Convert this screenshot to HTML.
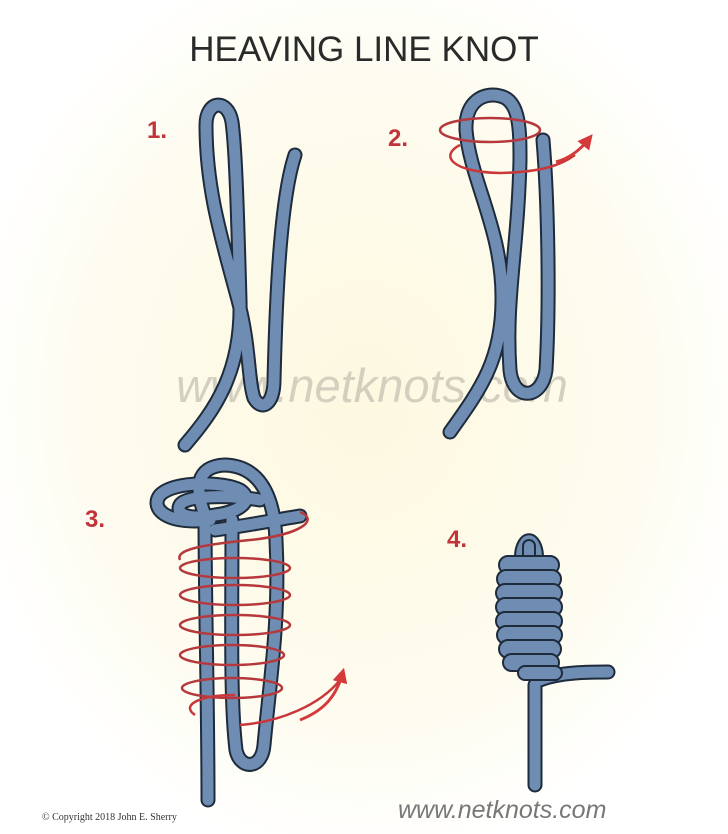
<!DOCTYPE html>
<html><head><meta charset="utf-8"><style>
html,body{margin:0;padding:0;}
body{width:728px;height:834px;overflow:hidden;background:#fff;font-family:"Liberation Sans",sans-serif;position:relative;}
svg{position:absolute;left:0;top:0;}
</style></head><body>
<svg width="728" height="834" viewBox="0 0 728 834" xmlns="http://www.w3.org/2000/svg">
<defs>
<radialGradient id="bg" cx="50%" cy="48%" r="55%">
<stop offset="0" stop-color="#fdf8df"/><stop offset="0.7" stop-color="#fefcf0"/><stop offset="1" stop-color="#ffffff"/>
</radialGradient>
<marker id="ah" viewBox="0 0 10 10" refX="5" refY="5" markerWidth="5" markerHeight="5" orient="auto"><path d="M0,0 L10,5 L0,10 z" fill="#d43a3a"/></marker>
</defs>
<rect width="728" height="834" fill="url(#bg)"/>
<text x="364" y="61" text-anchor="middle" font-size="35" fill="#2a2a2a" font-family="Liberation Sans,sans-serif">HEAVING LINE KNOT</text>
<g font-weight="bold" font-size="24" fill="#c0343a">
<text x="147" y="138">1.</text><text x="388" y="146">2.</text><text x="85" y="527">3.</text><text x="447" y="547">4.</text>
</g>
<text x="372" y="402" text-anchor="middle" font-size="47" font-style="italic" fill="#c9c6b8" opacity="0.8">www.netknots.com</text>

<g fill="none" stroke-linecap="round" stroke-linejoin="round">
<path id="p1" d="M185,445 C215,410 242,372 240,300 C238,230 236,150 232,122 C228,98 206,100 206,125 C206,190 222,240 238,300 C250,345 248,380 254,398 C262,412 274,404 274,380 C276,300 280,200 295,155"/>
<path id="p2" d="M450,432 C480,390 502,360 502,300 C503,230 470,180 466,130 C465,100 485,92 500,96 C520,100 520,130 520,160 C518,250 505,300 510,370 C513,402 542,400 546,370 C550,300 548,200 543,140"/>
<path id="p3a" d="M208,800 C208,700 205,600 205,515"/>
<path id="p3b" d="M232,520 C232,620 230,700 236,750 C240,770 262,770 264,745 C270,680 280,620 276,540 C274,490 256,466 225,465 C195,466 195,490 205,515"/>
<path id="p3c" d="M210,520 C165,525 150,508 160,495 C175,480 225,482 240,490 C255,500 240,512 215,515 C190,520 175,515 180,505 C185,495 230,495 260,500 M215,530 C250,525 275,520 300,516"/>
<path id="p4" d="M535,785 L535,685 M540,680 C560,672 590,672 608,672"/>
</g>
<g fill="none" stroke="#1e2b3b" stroke-width="15" stroke-linecap="round" stroke-linejoin="round">
<use href="#p1"/><use href="#p2"/><use href="#p3a"/><use href="#p3c"/><use href="#p3b"/><use href="#p4"/>
</g>
<g fill="none" stroke="#6f8db3" stroke-width="11" stroke-linecap="round" stroke-linejoin="round">
<use href="#p1"/><use href="#p2"/><use href="#p3a"/><use href="#p3c"/><use href="#p3b"/><use href="#p4"/>
</g>
<g stroke="#1e2b3b" stroke-width="2" fill="#6f8db3">
<path d="M515,562 C513,525 545,525 543,562 Z" />
<rect x="523" y="540" width="12" height="28" rx="6"/>
<rect x="499" y="556" width="60" height="18" rx="9"/>
<rect x="497" y="570" width="64" height="18" rx="9"/>
<rect x="496" y="584" width="66" height="18" rx="9"/>
<rect x="496" y="598" width="66" height="18" rx="9"/>
<rect x="496" y="612" width="66" height="18" rx="9"/>
<rect x="497" y="626" width="65" height="18" rx="9"/>
<rect x="499" y="640" width="62" height="18" rx="9"/>
<rect x="503" y="654" width="56" height="17" rx="8.5"/>
<rect x="518" y="666" width="44" height="14" rx="7"/>
</g>
<g fill="none" stroke="#b5393c" stroke-width="2.5">
<ellipse cx="490" cy="130" rx="50" ry="12"/>
<path d="M460,145 C440,155 450,172 500,173 C540,172 560,166 575,155" stroke="#c9373a"/>
</g>
<path d="M556,162 C570,158 580,150 588,140" fill="none" stroke="#d43a3a" stroke-width="3" marker-end="url(#ah)"/>
<g fill="none" stroke="#b5393c" stroke-width="2.5">
<path d="M300,512 C320,520 300,535 250,540 C200,545 175,550 180,560"/>
<ellipse cx="235" cy="568" rx="55" ry="10"/>
<ellipse cx="235" cy="595" rx="55" ry="10"/>
<ellipse cx="235" cy="625" rx="55" ry="10"/>
<ellipse cx="232" cy="655" rx="52" ry="10"/>
<ellipse cx="232" cy="688" rx="50" ry="10"/>
<path d="M195,715 C180,705 200,695 235,695 M240,725 C280,722 320,705 340,680" stroke="#c9373a"/>
</g>
<path d="M300,720 C320,712 335,700 342,675" fill="none" stroke="#d43a3a" stroke-width="3" marker-end="url(#ah)"/>
<text x="42" y="820" font-size="10" fill="#333" font-family="Liberation Serif,serif">© Copyright 2018 John E. Sherry</text>
<text x="398" y="818" font-size="25" font-style="italic" fill="#777">www.netknots.com</text>
</svg>
</body></html>
